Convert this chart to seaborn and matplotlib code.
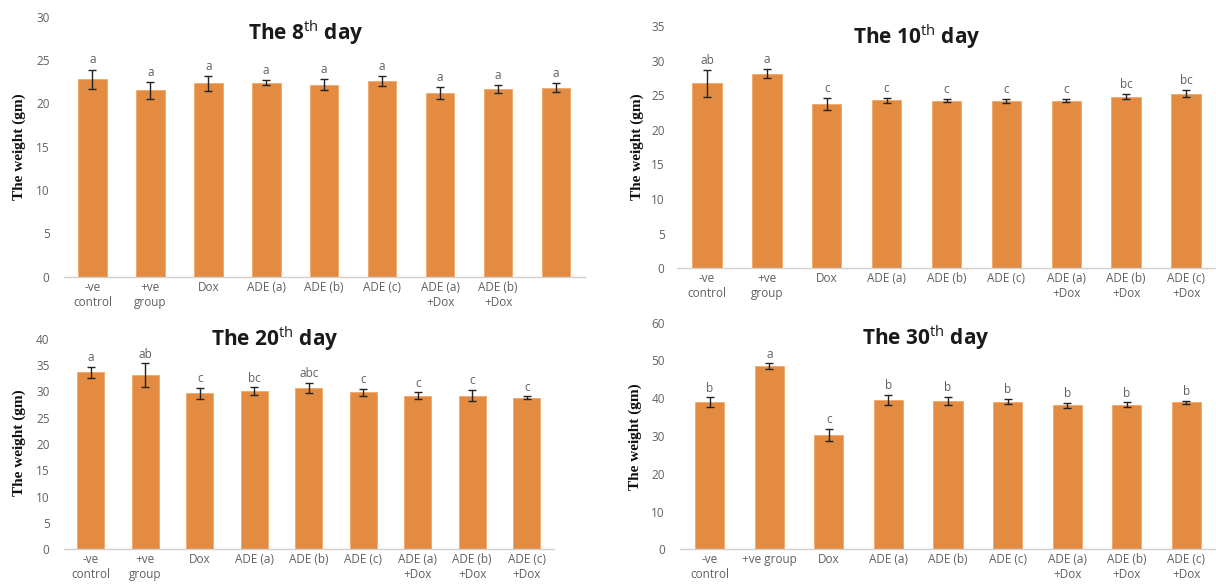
import matplotlib
matplotlib.use("Agg")
import matplotlib.pyplot as plt
import seaborn as sns
import pandas as pd

sns.set_theme(style="white")
plt.rcParams["font.family"] = ["Open Sans", "DejaVu Sans"]
plt.rcParams["mathtext.fontset"] = "custom"
plt.rcParams["mathtext.rm"] = "Open Sans"
plt.rcParams["mathtext.bf"] = "Open Sans:bold"

# ---- data -------------------------------------------------------------
labels_8 = ["-ve\ncontrol", "+ve\ngroup", "Dox", "ADE (a)", "ADE (b)", "ADE (c)",
            "ADE (a)\n+Dox", "ADE (b)\n+Dox", ""]
labels_std = ["-ve\ncontrol", "+ve\ngroup", "Dox", "ADE (a)", "ADE (b)", "ADE (c)",
              "ADE (a)\n+Dox", "ADE (b)\n+Dox", "ADE (c)\n+Dox"]
labels_30 = ["-ve\ncontrol", "+ve group", "Dox", "ADE (a)", "ADE (b)", "ADE (c)",
             "ADE (a)\n+Dox", "ADE (b)\n+Dox", "ADE (c)\n+Dox"]

day8_mean = [22.8, 21.5, 22.3, 22.4, 22.15, 22.6, 21.2, 21.7, 21.8]
day8_se = [1.1, 1.0, 0.85, 0.25, 0.65, 0.55, 0.7, 0.45, 0.5]
day8_sig = ["a", "a", "a", "a", "a", "a", "a", "a", "a"]

day10_mean = [26.7, 28.1, 23.7, 24.25, 24.2, 24.15, 24.2, 24.8, 25.2]
day10_se = [2.0, 0.65, 0.9, 0.35, 0.2, 0.25, 0.25, 0.4, 0.5]
day10_sig = ["ab", "a", "c", "c", "c", "c", "c", "bc", "bc"]

day20_mean = [33.65, 33.1, 29.65, 30.1, 30.7, 29.85, 29.2, 29.2, 28.8]
day20_se = [1.05, 2.25, 1.05, 0.7, 1.0, 0.7, 0.65, 1.1, 0.3]
day20_sig = ["a", "ab", "c", "bc", "abc", "c", "c", "c", "c"]

day30_mean = [38.9, 48.5, 30.2, 39.5, 39.3, 39.1, 38.1, 38.3, 38.9]
day30_se = [1.3, 0.7, 1.6, 1.3, 1.0, 0.7, 0.7, 0.6, 0.4]
day30_sig = ["b", "a", "c", "b", "b", "b", "b", "b", "b"]

BAR = "#E38B40"
GREY = "#606060"
W, H = 1216, 586

fig = plt.figure(figsize=(W / 100, H / 100), dpi=100)


def panel(rect, labels, means, ses, sig, ymax, ystep, title, title_xy, ylab_xy,
          ypad):
    ax = fig.add_axes(rect)
    df = pd.DataFrame({"grp": [f"g{i}" for i in range(len(means))], "w": means})
    sns.barplot(data=df, x="grp", y="w", color=BAR, saturation=1, width=0.49,
                errorbar=None, ax=ax, edgecolor="#F0A868", linewidth=0.6)
    ax.errorbar(range(len(means)), means, yerr=ses, fmt="none", ecolor="#222222",
                elinewidth=1.0, capsize=2.6, capthick=1.0)
    off = ymax * 0.012
    for i, (m, s, t) in enumerate(zip(means, ses, sig)):
        ax.text(i, m + s + off, t, ha="center", va="bottom", fontsize=8.5,
                color=GREY)
    ax.set_xlim(-0.5, len(means) - 0.5)
    ax.set_ylim(0, ymax)
    ax.set_yticks(range(0, ymax + 1, ystep))
    ax.set_xticks(range(len(means)))
    ax.set_xticklabels(labels, fontsize=8.5, color=GREY, linespacing=1.2)
    ax.tick_params(axis="y", labelsize=8.5, labelcolor=GREY, pad=ypad, length=0)
    ax.tick_params(axis="x", pad=3, length=0)
    ax.set_xlabel("")
    ax.set_ylabel("")
    for side in ("top", "right", "left"):
        ax.spines[side].set_visible(False)
    ax.spines["bottom"].set_color("#D0D0D0")
    ax.spines["bottom"].set_linewidth(1.0)
    ax.grid(False)
    fig.text(title_xy[0] / W, 1 - title_xy[1] / H, title, ha="center",
             va="center", fontsize=15, fontweight="bold", color="#1a1a1a")
    fig.text(ylab_xy[0] / W, 1 - ylab_xy[1] / H, "The weight (gm)",
             rotation=90, ha="center", va="center", fontsize=11,
             fontweight="bold", family="Liberation Serif", color="#111111")
    return ax


panel([63.5 / W, 1 - 276.7 / H, 521.5 / W, 260.0 / H], labels_8, day8_mean,
      day8_se, day8_sig, 30, 5, r"The 8$^{\mathrm{th}}$ day", (306, 33),
      (19, 147), 10)
panel([677 / W, 1 - 268.3 / H, (W - 677) / W, 242.3 / H], labels_std,
      day10_mean, day10_se, day10_sig, 35, 5, r"The 10$^{\mathrm{th}}$ day",
      (917, 37), (637, 147), 9)
panel([63.5 / W, 1 - 549 / H, 490.5 / W, 210 / H], labels_std, day20_mean,
      day20_se, day20_sig, 40, 5, r"The 20$^{\mathrm{th}}$ day", (275, 339),
      (19, 443), 10)
panel([680 / W, 1 - 549.3 / H, (W - 680) / W, 226.6 / H], labels_30,
      day30_mean, day30_se, day30_sig, 60, 10, r"The 30$^{\mathrm{th}}$ day",
      (926, 338), (635, 437), 11)

fig.savefig("out.png", dpi=100, facecolor="white")
